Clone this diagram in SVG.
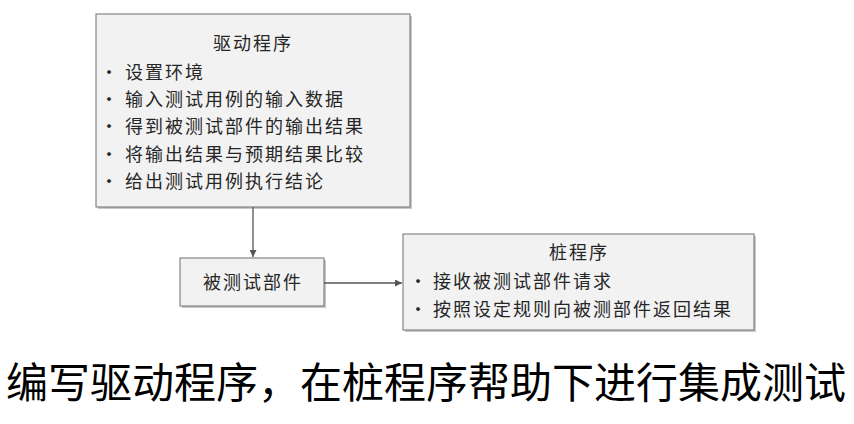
<svg xmlns="http://www.w3.org/2000/svg" width="854" height="424" viewBox="0 0 854 424">
<style>
.box{fill:#f2f2f2;stroke:#6f6f6f;stroke-width:1}
.sh{fill:#c8c8c8}
.t{font-family:"Noto Sans CJK SC",sans-serif;font-size:18px;letter-spacing:2px;fill:#262626}
.c{text-anchor:middle}
.big{font-family:"Noto Sans CJK SC",sans-serif;font-size:42px;fill:#000}
.ln{stroke:#555;stroke-width:1.3;fill:none}
</style>
<defs>
<marker id="ah" viewBox="0 0 10 10" refX="10" refY="5" markerWidth="7" markerHeight="7" markerUnits="userSpaceOnUse" orient="auto"><path d="M0,0 L10,5 L0,10 z" fill="#555"/></marker>
</defs>
<rect width="854" height="424" fill="#fff"/>
<g id="driver">
<rect class="sh" x="98" y="16" width="314" height="193"/>
<rect class="box" x="96" y="14" width="314" height="193"/>
<text class="t c" x="253" y="50">驱动程序</text>
<text class="t" x="100" y="79">·</text><text class="t" x="125" y="79">设置环境</text>
<text class="t" x="100" y="106">·</text><text class="t" x="125" y="106">输入测试用例的输入数据</text>
<text class="t" x="100" y="133">·</text><text class="t" x="125" y="133">得到被测试部件的输出结果</text>
<text class="t" x="100" y="161">·</text><text class="t" x="125" y="161">将输出结果与预期结果比较</text>
<text class="t" x="100" y="188">·</text><text class="t" x="125" y="188">给出测试用例执行结论</text>
</g>
<g id="unit">
<rect class="sh" x="182" y="260" width="144" height="48"/>
<rect class="box" x="180" y="258" width="144" height="48"/>
<text class="t c" x="253" y="289">被测试部件</text>
</g>
<g id="stub">
<rect class="sh" x="405" y="236" width="351" height="96"/>
<rect class="box" x="403" y="234" width="351" height="96"/>
<text class="t c" x="579" y="259">桩程序</text>
<text class="t" x="409" y="288">·</text><text class="t" x="433" y="288">接收被测试部件请求</text>
<text class="t" x="409" y="316">·</text><text class="t" x="433" y="316">按照设定规则向被测部件返回结果</text>
</g>
<g id="connectors">
<line class="ln" x1="253" y1="207" x2="253" y2="257" marker-end="url(#ah)"/>
<line class="ln" x1="324" y1="283" x2="402" y2="283" marker-end="url(#ah)"/>
</g>
<text class="big" x="6" y="398">编写驱动程序，在桩程序帮助下进行集成测试</text>
</svg>
